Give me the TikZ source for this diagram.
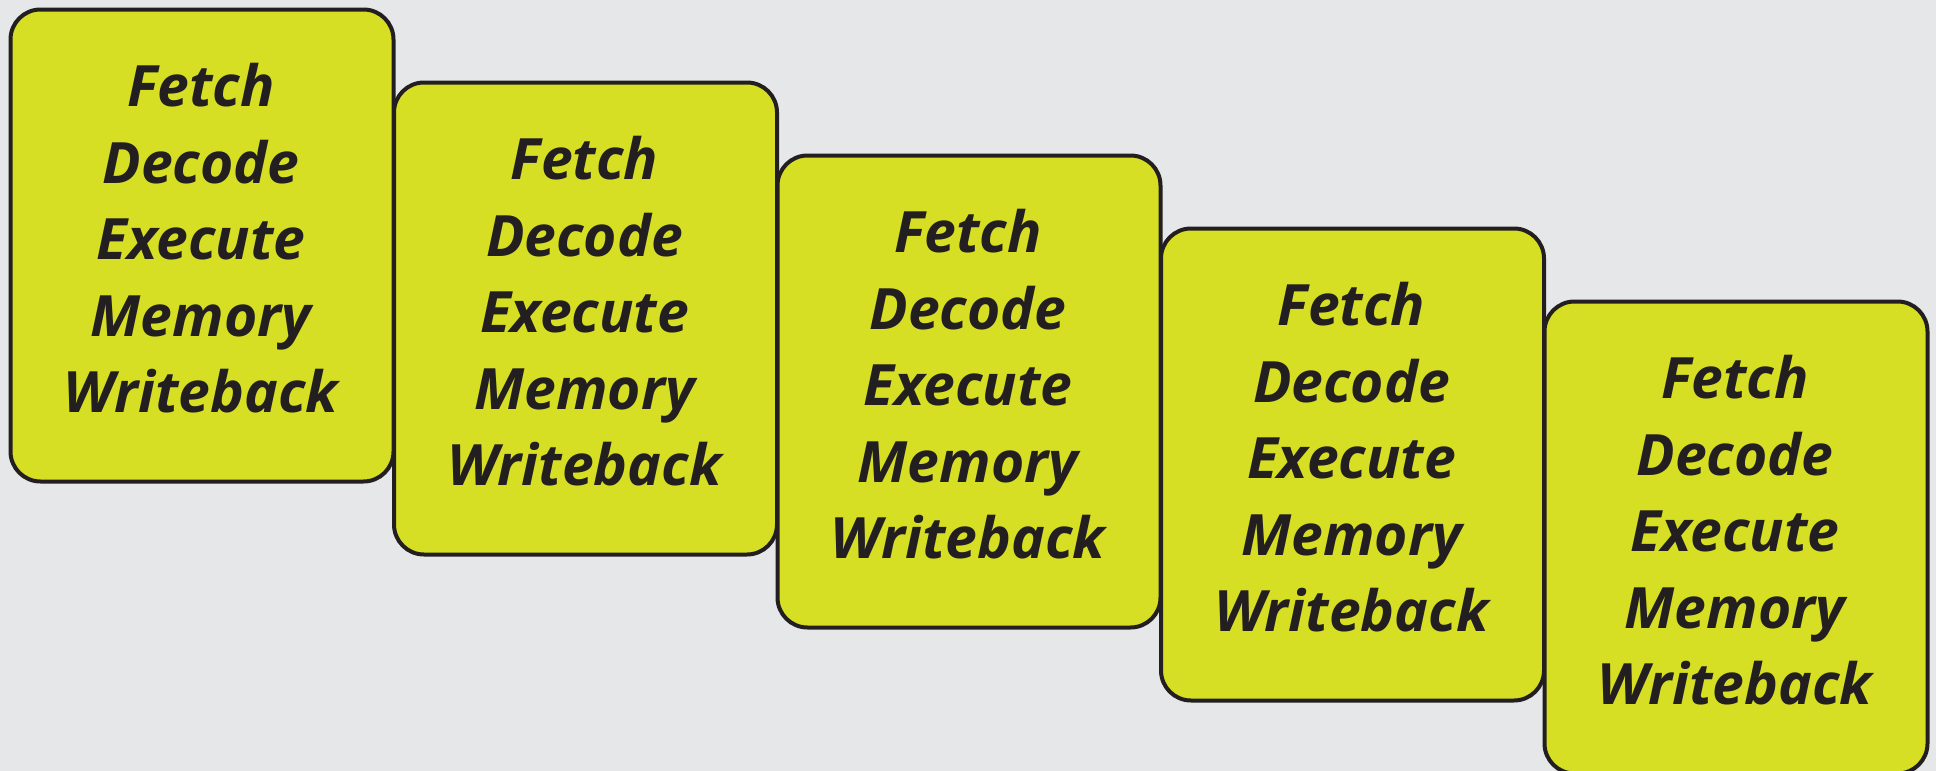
\documentclass[tikz,border=0pt]{standalone}
\usepackage{fontspec}
\setmainfont{Open Sans}
\usetikzlibrary{calc}
\definecolor{bgcol}{HTML}{E6E7E8}
\definecolor{stagefill}{HTML}{D6DF23}
\definecolor{inkcol}{HTML}{231F20}
\begin{document}
\begin{tikzpicture}[x=1pt,y=-1pt,
  stagebox/.style={draw=inkcol, line width=4pt, fill=stagefill, rounded corners=30pt,
    minimum width=383pt, minimum height=472pt, inner sep=0pt, anchor=north west},
  stagetext/.style={text=inkcol, align=center, inner sep=0pt, anchor=base,
    font=\fontsize{57}{76.5}\selectfont\bfseries\itshape}]
  \fill[bgcol] (0,0) rectangle (1936,771);
  \useasboundingbox (0,0) rectangle (1936,771);
  % five pipeline stages, each one step right and down from the last
  \foreach \i in {0,...,4} {
    \node[stagebox] (box\i) at ({8.5+383.5*\i},{7.5+73*\i}) {};
    \node[stagetext] (txt\i) at ($(box\i.north)+(-1,405)$) {Fetch\\Decode\\Execute\\Memory\\Writeback};
  }
\end{tikzpicture}
\end{document}
